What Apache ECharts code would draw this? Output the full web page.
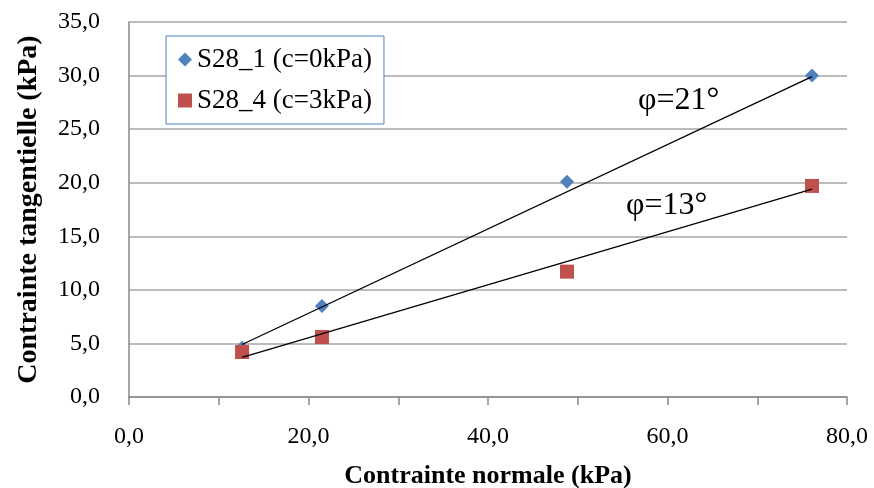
<!DOCTYPE html>
<html>
<head>
<meta charset="utf-8">
<script src="https://cdn.jsdelivr.net/npm/echarts@6/dist/echarts.min.js"></script>
<style>
  html, body { margin: 0; padding: 0; background: #fff; }
  #chart { width: 874px; height: 488px; }
</style>
</head>
<body>
<div id="chart"></div>
<script>
// données
let s1Points = [[12.6, 4.6], [21.5, 8.5], [48.8, 20.1], [76.1, 30.0]];
let s4Points = [[12.6, 4.2], [21.5, 5.6], [48.8, 11.7], [76.1, 19.7]];
let s1Trend = [[12.6, 4.9], [76.1, 29.9]];
let s4Trend = [[12.6, 3.7], [76.1, 19.4]];
let seriesNames = ["S28_1 (c=0kPa)", "S28_4 (c=3kPa)"];
let angleLabels = ["φ=21°", "φ=13°"];

let serif = "Liberation Serif";
let fmt = v => v.toFixed(1).replace(".", ",");

let chart = echarts.init(document.getElementById("chart"));

let option = {
    animation: false,
    backgroundColor: "#fff",
    grid: { left: 129, right: 27, top: 22, bottom: 91, outerBoundsMode: "none" },
    legend: {
        orient: "vertical",
        left: 166,
        top: 36,
        data: [
            { name: seriesNames[0], icon: "diamond" },
            { name: seriesNames[1], icon: "rect" }
        ],
        itemWidth: 14,
        itemHeight: 14,
        itemGap: 14,
        padding: [10, 12, 10, 12],
        borderColor: "#4F81BD",
        borderWidth: 1,
        backgroundColor: "#fff",
        textStyle: { fontFamily: serif, fontSize: 27, color: "#000" }
    },
    xAxis: {
        type: "value",
        min: 0,
        max: 80,
        interval: 10,
        name: "Contrainte normale (kPa)",
        nameLocation: "middle",
        nameGap: 66,
        nameTextStyle: { fontFamily: serif, fontSize: 26, fontWeight: "bold", color: "#000" },
        axisLine: { lineStyle: { color: "#888", width: 1.5 } },
        axisTick: { show: true, length: 8, lineStyle: { color: "#888", width: 1.5 } },
        axisLabel: {
            fontFamily: serif, fontSize: 24, color: "#000", margin: 28,
            formatter: v => (v % 20 === 0 ? fmt(v) : "")
        },
        splitLine: { show: false }
    },
    yAxis: {
        type: "value",
        min: 0,
        max: 35,
        interval: 5,
        name: "Contrainte tangentielle (kPa)",
        nameLocation: "middle",
        nameGap: 86,
        nameTextStyle: { fontFamily: serif, fontSize: 28, fontWeight: "bold", color: "#000" },
        axisLine: { show: true, lineStyle: { color: "#888", width: 1.5 } },
        axisTick: { show: false },
        axisLabel: { fontFamily: serif, fontSize: 24, color: "#000", margin: 29, formatter: fmt },
        splitLine: { lineStyle: { color: "#a6a6a6", width: 1.5 } }
    },
    series: [
        {
            name: "trend1",
            type: "line",
            data: s1Trend,
            symbol: "none",
            lineStyle: { color: "#000", width: 1.3 },
            z: 3
        },
        {
            name: "trend2",
            type: "line",
            data: s4Trend,
            symbol: "none",
            lineStyle: { color: "#000", width: 1.3 },
            z: 3
        },
        {
            name: seriesNames[0],
            type: "scatter",
            data: s1Points,
            symbol: "diamond",
            symbolSize: 14,
            itemStyle: { color: "#4F81BD", opacity: 1 },
            z: 2
        },
        {
            name: seriesNames[1],
            type: "scatter",
            data: s4Points,
            symbol: "rect",
            symbolSize: 14,
            itemStyle: { color: "#C0504D", opacity: 1 },
            z: 2
        }
    ],
    graphic: [
        {
            type: "text", left: 638, top: 85,
            style: { text: angleLabels[0], fontFamily: serif, fontSize: 32, fill: "#000" }
        },
        {
            type: "text", left: 626, top: 190,
            style: { text: angleLabels[1], fontFamily: serif, fontSize: 32, fill: "#000" }
        }
    ]
};

chart.setOption(option);
</script>
</body>
</html>
